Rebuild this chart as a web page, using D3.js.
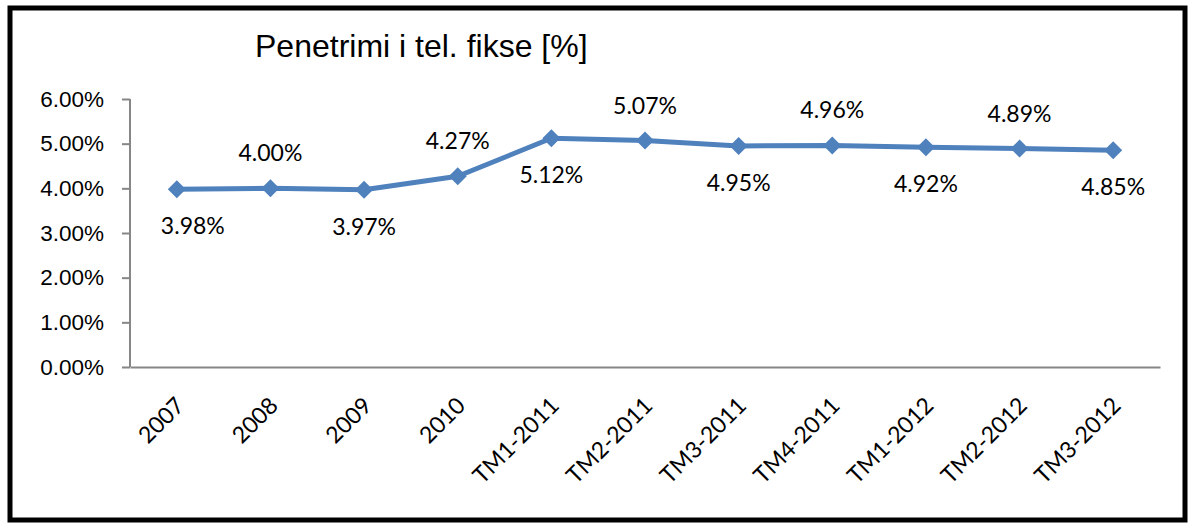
<!DOCTYPE html>
<html>
<head>
<meta charset="utf-8">
<script src="https://cdn.jsdelivr.net/npm/d3@7"></script>
<style>
  body { margin: 0; background: #fff; }
  svg { display: block; }
</style>
</head>
<body>
<div id="chart"></div>
<script>
var categories = ["2007", "2008", "2009", "2010", "TM1-2011", "TM2-2011", "TM3-2011", "TM4-2011", "TM1-2012", "TM2-2012", "TM3-2012"];
var penetrimi = [3.98, 4.00, 3.97, 4.27, 5.12, 5.07, 4.95, 4.96, 4.92, 4.89, 4.85];
var yTicks = [0, 1, 2, 3, 4, 5, 6];
var title = "Penetrimi i tel. fikse [%]";

var W = 1188, H = 524;
var margin = {top: 99, right: 28, bottom: 157, left: 130};
var width = W - margin.left - margin.right,
    height = H - margin.top - margin.bottom;

var svg = d3.select("#chart").append("svg")
  .attr("width", W)
  .attr("height", H);

// frame
svg.append("rect")
  .attr("x", 10).attr("y", 8)
  .attr("width", 1175).attr("height", 512)
  .attr("fill", "#fff")
  .attr("stroke", "#000")
  .attr("stroke-width", 5);

svg.append("text")
  .attr("x", 255).attr("y", 57)
  .style("font-family", "'Liberation Sans', Arial, sans-serif")
  .style("font-size", "32px")
  .text(title);

var g = svg.append("g")
  .attr("transform", "translate(" + margin.left + "," + margin.top + ")");

var x = d3.scaleBand().domain(categories).range([0, width]);
var y = d3.scaleLinear().domain([0, 6]).range([height, 0]);

// y axis
var yAxis = g.append("g")
  .call(d3.axisLeft(y).tickValues(yTicks).tickSize(8).tickFormat(function(d) { return d.toFixed(2) + "%"; }));
yAxis.select(".domain").attr("stroke", "#868686").attr("stroke-width", 2).attr("d", "M0," + height + "V0");
yAxis.selectAll(".tick line").attr("stroke", "#868686").attr("stroke-width", 2);
yAxis.selectAll(".tick text")
  .attr("x", -26)
  .style("font-family", "'Liberation Sans', Arial, sans-serif")
  .style("font-size", "22.5px")
  .attr("fill", "#000");

// x axis
var xAxis = g.append("g")
  .attr("transform", "translate(0," + height + ")")
  .call(d3.axisBottom(x).tickSize(0).tickSizeOuter(0));
xAxis.select(".domain").attr("stroke", "#868686").attr("stroke-width", 2);
xAxis.selectAll(".tick text")
  .style("font-family", "Lato, 'Open Sans', sans-serif")
  .style("font-size", "23px")
  .attr("fill", "#000")
  .attr("text-anchor", "end")
  .attr("y", 0)
  .attr("dy", 0)
  .attr("transform", "translate(9,40) rotate(-45)");

var cx = function(d, i) { return x(categories[i]) + x.bandwidth() / 2; };

g.append("path")
  .datum(penetrimi)
  .attr("fill", "none")
  .attr("stroke", "#4F81BD")
  .attr("stroke-width", 5)
  .attr("stroke-linejoin", "round")
  .attr("d", d3.line().x(cx).y(function(d) { return y(d); }));

g.selectAll(".marker")
  .data(penetrimi)
  .enter().append("path")
  .attr("class", "marker")
  .attr("fill", "#4F81BD")
  .attr("d", "M0,-9L9,0L0,9L-9,0Z")
  .attr("transform", function(d, i) { return "translate(" + cx(d, i) + "," + y(d) + ")"; });

g.selectAll(".lbl")
  .data(penetrimi)
  .enter().append("text")
  .attr("class", "lbl")
  .attr("x", function(d, i) { return cx(d, i) + (i == 0 ? 16 : 0); })
  .attr("y", function(d, i) { return y(d) + (i % 2 == 0 ? 45 : -27); })
  .attr("text-anchor", "middle")
  .style("font-family", "Lato, 'Open Sans', sans-serif")
  .style("font-size", "23px")
  .attr("fill", "#000")
  .text(function(d) { return d.toFixed(2) + "%"; });
</script>
</body>
</html>
